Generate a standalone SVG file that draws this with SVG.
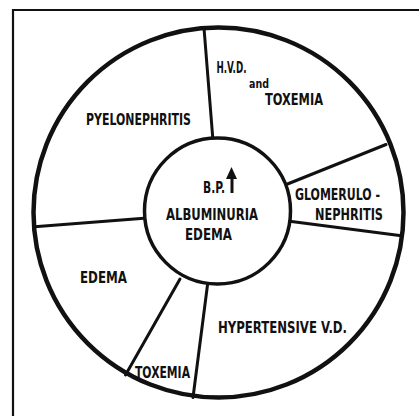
<svg xmlns="http://www.w3.org/2000/svg" width="419" height="416" viewBox="0 0 419 416">
<style>
.t{font-family:"Liberation Sans Narrow","DejaVu Sans Condensed","Liberation Sans",sans-serif;font-weight:bold;font-size:16px;fill:#111}
.s{font-family:"Liberation Sans Narrow","DejaVu Sans Condensed","Liberation Sans",sans-serif;font-weight:bold;font-size:13px;fill:#111}
.d{stroke:#111;stroke-width:3;fill:none;stroke-linecap:round}
</style>
<rect width="419" height="416" fill="#fff"/>
<path d="M13 416 V10 H419" fill="none" stroke="#111" stroke-width="2.2"/>
<g id="outer"><circle cx="218.5" cy="212.5" r="185" fill="none" stroke="#111" stroke-width="4.5"/></g>
<g id="connectors">
<line class="d" x1="204" y1="28" x2="212.7" y2="137"/>
<line class="d" x1="386" y1="144.5" x2="287.5" y2="184"/>
<line class="d" x1="291.5" y1="221.5" x2="399.5" y2="235.5"/>
<line class="d" x1="207.5" y1="285" x2="193" y2="397.5"/>
<line class="d" x1="180" y1="279" x2="125.5" y2="375"/>
<line class="d" x1="144" y1="218.3" x2="34.5" y2="226.7"/>
</g>
<g id="center">
<circle cx="217.5" cy="211" r="73" fill="#fff" stroke="#111" stroke-width="3.5"/>
<text class="t" x="203" y="193" textLength="22" lengthAdjust="spacingAndGlyphs">B.P.</text>
<line x1="232" y1="175" x2="232" y2="193" stroke="#111" stroke-width="3"/>
<path d="M226 179 L231.5 167 L237 179 Z" fill="#111"/>
<text class="t" x="166" y="220" textLength="92" lengthAdjust="spacingAndGlyphs">ALBUMINURIA</text>
<text class="t" x="185" y="240" textLength="47" lengthAdjust="spacingAndGlyphs">EDEMA</text>
</g>
<g id="pyelonephritis"><text class="t" x="86" y="125" textLength="105" lengthAdjust="spacingAndGlyphs">PYELONEPHRITIS</text></g>
<g id="hvd-toxemia">
<text class="t" x="216.5" y="73" textLength="30" lengthAdjust="spacingAndGlyphs">H.V.D.</text>
<text class="s" x="249" y="88" textLength="20" lengthAdjust="spacingAndGlyphs">and</text>
<text class="t" x="265" y="105" textLength="58" lengthAdjust="spacingAndGlyphs">TOXEMIA</text>
</g>
<g id="glomerulonephritis">
<text class="t" x="295" y="200" textLength="85" lengthAdjust="spacingAndGlyphs">GLOMERULO -</text>
<text class="t" x="315" y="220" textLength="68" lengthAdjust="spacingAndGlyphs">NEPHRITIS</text>
</g>
<g id="hypertensive"><text class="t" x="218" y="333" textLength="129" lengthAdjust="spacingAndGlyphs">HYPERTENSIVE V.D.</text></g>
<g id="toxemia"><text class="t" x="135" y="378" textLength="55" lengthAdjust="spacingAndGlyphs">TOXEMIA</text></g>
<g id="edema"><text class="t" x="80" y="283" textLength="47" lengthAdjust="spacingAndGlyphs">EDEMA</text></g>
</svg>
